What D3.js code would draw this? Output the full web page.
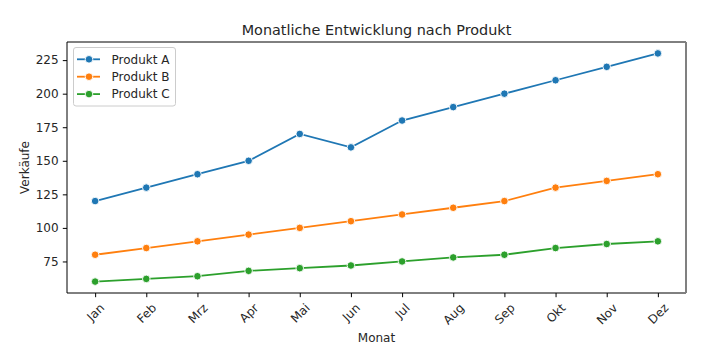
<!DOCTYPE html>
<html><head><meta charset="utf-8">
<script src="https://cdn.jsdelivr.net/npm/d3@7"></script>
<style>body{margin:0;background:#fff}text{font-family:"DejaVu Sans",sans-serif;fill:#262626}</style>
</head><body><svg id="c" width="711" height="357"></svg>
<script>
const months = ["Jan","Feb","Mrz","Apr","Mai","Jun","Jul","Aug","Sep","Okt","Nov","Dez"];
const seriesNames = ["Produkt A","Produkt B","Produkt C"];
const produktA = [120,130,140,150,170,160,180,190,200,210,220,230];
const produktB = [80,85,90,95,100,105,110,115,120,130,135,140];
const produktC = [60,62,64,68,70,72,75,78,80,85,88,90];
const yTicks = [75,100,125,150,175,200,225];
const colors = ["#1f77b4","#ff7f0e","#2ca02c"];
const allSeries = [produktA, produktB, produktC];

const L=67, R=686, T=42, B=293;
const FS = 12;
const svg = d3.select("#c");
const x = d3.scaleLinear().domain([-0.55, 11.55]).range([L,R]);
const allVals = allSeries.flat();
const mn = d3.min(allVals), mx = d3.max(allVals), pad=(mx-mn)*0.05;
const y = d3.scaleLinear().domain([mn-pad, mx+pad]).range([B,T]);

// y axis
const ya = svg.append("g").attr("transform",`translate(${L},0)`)
  .call(d3.axisLeft(y).tickValues(yTicks).tickSize(4.2).tickPadding(4.2));
ya.select(".domain").remove();
ya.selectAll("line").attr("stroke","#000").attr("stroke-width",1);
ya.selectAll("text").style("font-size",FS+"px").style("font-family","DejaVu Sans").attr("fill","#262626");

// x axis
const xa = svg.append("g").attr("transform",`translate(0,${B})`)
  .call(d3.axisBottom(x).tickValues(d3.range(months.length)).tickFormat(i=>months[i]).tickSize(4.2).tickPadding(4.2));
xa.select(".domain").remove();
xa.selectAll("line").attr("stroke","#000").attr("stroke-width",1);
xa.selectAll("text").style("font-size",FS+"px").style("font-family","DejaVu Sans").attr("fill","#262626")
  .each(function(){
    const t=d3.select(this);
    const w=this.getComputedTextLength(), h=FS*1.0;
    const s=(w+h)*Math.SQRT1_2;
    t.attr("y",null).attr("dy",null).attr("text-anchor","middle").attr("dominant-baseline","central")
     .attr("transform",`translate(0,${8.6+s/2}) rotate(-45)`);
  });

// spines
svg.append("line").attr("x1",L).attr("x2",L).attr("y1",T).attr("y2",B).attr("stroke","#000").attr("stroke-width",1);
svg.append("line").attr("x1",L).attr("x2",R).attr("y1",B).attr("y2",B).attr("stroke","#000").attr("stroke-width",1);
svg.append("line").attr("x1",L).attr("x2",R).attr("y1",T).attr("y2",T).attr("stroke","#000").attr("stroke-width",1);
svg.append("line").attr("x1",R).attr("x2",R).attr("y1",T).attr("y2",B).attr("stroke","#808080").attr("stroke-width",2);

// lines
const line = d3.line().x((d,i)=>x(i)).y(d=>y(d));
allSeries.forEach((s,k)=>{
  svg.append("path").datum(s).attr("d",line).attr("fill","none").attr("stroke",colors[k]).attr("stroke-width",1.8);
  svg.append("g").selectAll("circle").data(s).join("circle")
    .attr("cx",(d,i)=>x(i)).attr("cy",d=>y(d)).attr("r",3.8)
    .attr("fill",colors[k]).attr("stroke","#fff").attr("stroke-width",0.9);
});

// title & labels
svg.append("text").attr("x",(L+R)/2).attr("y",35).attr("text-anchor","middle").style("font-size","14.4px").text("Monatliche Entwicklung nach Produkt");
svg.append("text").attr("x",(L+R)/2).attr("y",341.5).attr("text-anchor","middle").style("font-size",FS+"px").text("Monat");
svg.append("text").attr("transform",`translate(28.5,${(T+B)/2}) rotate(-90)`).attr("text-anchor","middle").style("font-size",FS+"px").text("Verkäufe");

// legend
const lg = svg.append("g");
lg.append("rect").attr("x",73.5).attr("y",47.5).attr("width",102).attr("height",58.5).attr("rx",2.5)
  .attr("fill","#fff").attr("fill-opacity",0.8).attr("stroke","#ccc").attr("stroke-width",1);
seriesNames.forEach((n,k)=>{
  const yy = 59.3 + k*17.4;
  lg.append("line").attr("x1",77).attr("x2",100).attr("y1",yy).attr("y2",yy).attr("stroke",colors[k]).attr("stroke-width",1.8);
  lg.append("circle").attr("cx",89).attr("cy",yy).attr("r",3.8).attr("fill",colors[k]).attr("stroke","#fff").attr("stroke-width",0.9);
  lg.append("text").attr("x",111.5).attr("y",yy).attr("dy","0.35em").style("font-size",FS+"px").text(n);
});
</script></body></html>
